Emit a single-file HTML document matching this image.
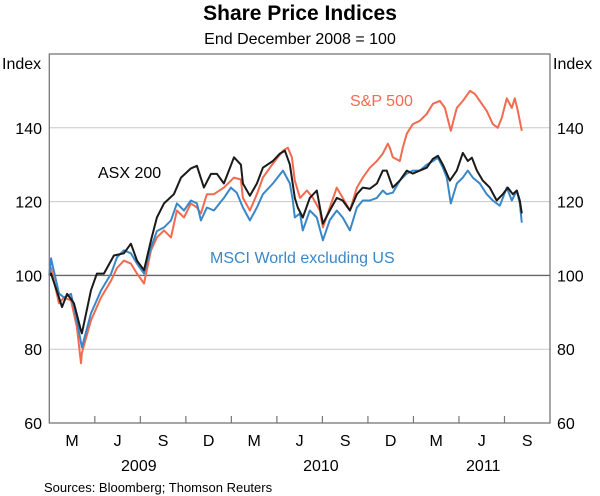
<!DOCTYPE html>
<html><head><meta charset="utf-8"><style>
html,body{margin:0;padding:0;background:#fff;}
svg{display:block;font-family:"Liberation Sans",Arial,sans-serif;}
</style></head><body>
<svg id="chart" width="600" height="496" viewBox="0 0 600 496" xmlns="http://www.w3.org/2000/svg">
<text x="300" y="20" text-anchor="middle" font-size="21" font-weight="bold" fill="#000">Share Price Indices</text>
<text x="300" y="44" text-anchor="middle" font-size="16" fill="#000">End December 2008 = 100</text>
<g id="grid"></g>
<g id="series"></g>
<rect x="49.3" y="54" width="500.7" height="369" fill="none" stroke="#777" stroke-width="1.3"/>
<g id="axes"></g>
<text x="2" y="69" font-size="16" fill="#000">Index</text>
<text x="553" y="69" font-size="16" fill="#000">Index</text>
<text x="98" y="178" font-size="16" fill="#000">ASX 200</text>
<text x="350" y="106" font-size="16" fill="#f26a4f">S&amp;P 500</text>
<text x="210" y="263" font-size="16" fill="#3a87c8">MSCI World excluding US</text>
<text x="44" y="492" font-size="13" fill="#000">Sources: Bloomberg; Thomson Reuters</text>
</svg>
<script>
const yTicks=[60,80,100,120,140];
const quarterLabels=["M","J","S","D","M","J","S","D","M","J","S"];
const yearLabels=["2009","2010","2011"];
const yearCenters=[5.9,17.9,28.6];
const asxMonths=[0,0.11,0.64,0.84,1.17,1.63,2.09,2.15,2.75,3.14,3.6,4.26,4.92,5.38,5.78,6.24,6.7,7.09,7.56,8.21,8.68,9.33,9.73,10.19,10.65,11.05,11.51,12.17,12.63,12.76,13.22,13.68,14.08,14.74,15.2,15.53,15.86,16.18,16.38,16.71,17.17,17.63,18.03,18.49,18.95,19.34,19.81,20.27,20.66,21.13,21.59,21.98,22.24,22.64,23.1,23.56,23.96,24.42,24.88,25.28,25.61,25.94,26.4,26.86,27.25,27.58,27.85,28.18,28.57,29.03,29.49,29.89,30.22,30.55,30.81,31.01,31.14];
const asxValues=[100,100.5,94,91.4,95,92.4,85,84.3,96,100.5,100.5,105.4,106,108.6,104,101.4,109.5,115.7,119.5,122,126.5,129,129.7,123.8,127.5,127.5,124.9,132,130,124.9,121.6,124.9,129.2,131,133,133.8,130,121,118.4,115.7,121,123,114,117.6,121,120.3,117.6,122,123.8,123.5,124.9,128.4,128.4,123.8,125.7,128.4,127.6,128.4,129.2,131.6,132.4,130,125.7,128.4,133.2,131,131.9,128.4,125.7,123.8,120.3,122,123.8,122,123,120.3,116.8];
const msciMonths=[0,0.11,0.64,0.97,1.43,1.82,2.15,2.75,3.41,4.07,4.46,4.92,5.38,5.78,6.24,6.7,7.09,7.56,8.02,8.41,8.88,9.33,9.73,9.99,10.39,10.85,11.51,11.97,12.36,12.76,13.22,13.68,14.08,14.74,15.4,15.86,16.05,16.18,16.52,16.71,17.17,17.63,18.03,18.49,18.95,19.34,19.81,20.27,20.66,21.13,21.59,21.98,22.24,22.64,23.1,23.56,23.96,24.42,24.88,25.28,25.61,25.94,26.2,26.46,26.86,27.25,27.58,27.91,28.37,28.83,29.23,29.69,30.15,30.48,30.81,31.01,31.14];
const msciValues=[100,104.6,95.1,94,95,87.8,80.5,89.7,95.9,100.5,104.9,106.8,106,103.2,100.5,107.6,112,113,114.9,119.5,117.6,120.3,119.5,114.9,118.4,117.6,121,123.8,122.4,118.4,114.9,118.4,122,124.9,128.4,124.9,120.3,115.7,116.8,112.2,117.6,115.7,109.5,115,117.6,115.7,112.2,118.4,120.3,120.3,121,123,122,122.4,125.7,127.6,128.4,128.4,130,131,131.9,129.2,126.5,119.5,124.9,126.5,128.4,126.5,124.9,122,120.3,118.9,123.8,120.3,123,119.5,114.3];
const spMonths=[0,0.11,0.64,0.97,1.43,1.82,2.09,2.15,2.75,3.41,4.07,4.46,4.92,5.38,5.78,6.24,6.7,7.09,7.56,8.02,8.41,8.88,9.33,9.73,9.99,10.39,10.85,11.51,12.17,12.63,12.76,13.22,13.68,14.08,14.74,15.4,15.72,15.99,16.18,16.52,16.98,17.37,17.83,18.03,18.49,18.95,19.34,19.81,20.27,20.66,21.13,21.59,21.98,22.31,22.44,22.64,23.1,23.3,23.56,23.96,24.42,24.88,25.28,25.74,26.07,26.46,26.86,27.25,27.72,28.05,28.37,28.83,29.23,29.56,29.82,30.15,30.48,30.68,30.88,31.14];
const spValues=[100,102,92.4,94,93.2,86,76.2,79,87.8,94,98.6,102,104,103.2,100.5,97.8,106.8,110.3,112.2,110.3,117.6,115.7,119.5,118.4,116.8,122,122,123.8,126.5,126,121,117.6,122,126.5,130.3,133.8,134.6,132,125.7,121,123,121,117.6,113,118.4,123.8,121,117.6,123.8,126.5,129.2,131,133,135.7,134.6,132,131,134.6,138.4,141,141.9,143.8,146.5,147.3,145.4,139.2,145.4,147.3,150,149.2,147.3,144.6,141,140,142.7,148,145.4,148,144.6,139.2];

const X0=49.3,X1=550,Y0=423,Y1=54,MMAX=33,VMIN=60,VMAX=160;
const NS="http://www.w3.org/2000/svg";
function xs(m){return X0+(X1-X0)*m/MMAX;}
function ys(v){return Y0-(v-VMIN)*(Y0-Y1)/(VMAX-VMIN);}
function mk(tag,attrs,parent){const e=document.createElementNS(NS,tag);for(const k in attrs)e.setAttribute(k,attrs[k]);parent.appendChild(e);return e;}
const grid=document.getElementById('grid'),axes=document.getElementById('axes'),ser=document.getElementById('series');
yTicks.forEach(v=>{
  if(v>VMIN){
    const l=mk('line',{x1:X0,x2:X1,y1:ys(v),y2:ys(v),stroke:v===100?'#666':'#c8c8c8','stroke-width':v===100?1.4:1},grid);
    
    
  }
  const a=mk('text',{x:42,y:ys(v)+6,'text-anchor':'end','font-size':16},axes);a.textContent=v;
  
  
  const b=mk('text',{x:557,y:ys(v)+6,'font-size':16},axes);b.textContent=v;
  
  
});
quarterLabels.forEach((q,i)=>{
  if(i>0){
    const t=mk('line',{x1:xs(i*3),x2:xs(i*3),y1:Y0,y2:Y0-7,stroke:'#777','stroke-width':1.2},axes);
    
    
  }
  const tx=mk('text',{x:xs(i*3+1.5),y:446,'text-anchor':'middle','font-size':16},axes);tx.textContent=q;
  
  
});
yearLabels.forEach((y,i)=>{
  const t=mk('text',{x:xs(yearCenters[i]),y:471,'text-anchor':'middle','font-size':16},axes);t.textContent=y;
  
  
});
function line(ms,vs,color,name){
  const d=ms.map((m,i)=>(i?'L':'M')+xs(m).toFixed(1)+','+ys(vs[i]).toFixed(1)).join('');
  const p=mk('path',{d:d,fill:'none',stroke:color,'stroke-width':2,'stroke-linejoin':'round'},ser);
  
  
}
line(spMonths,spValues,'#f26a4f','sp500-line');
line(msciMonths,msciValues,'#3a87c8','msci-line');
line(asxMonths,asxValues,'#1a1a1a','asx200-line');
</script>
</body></html>
